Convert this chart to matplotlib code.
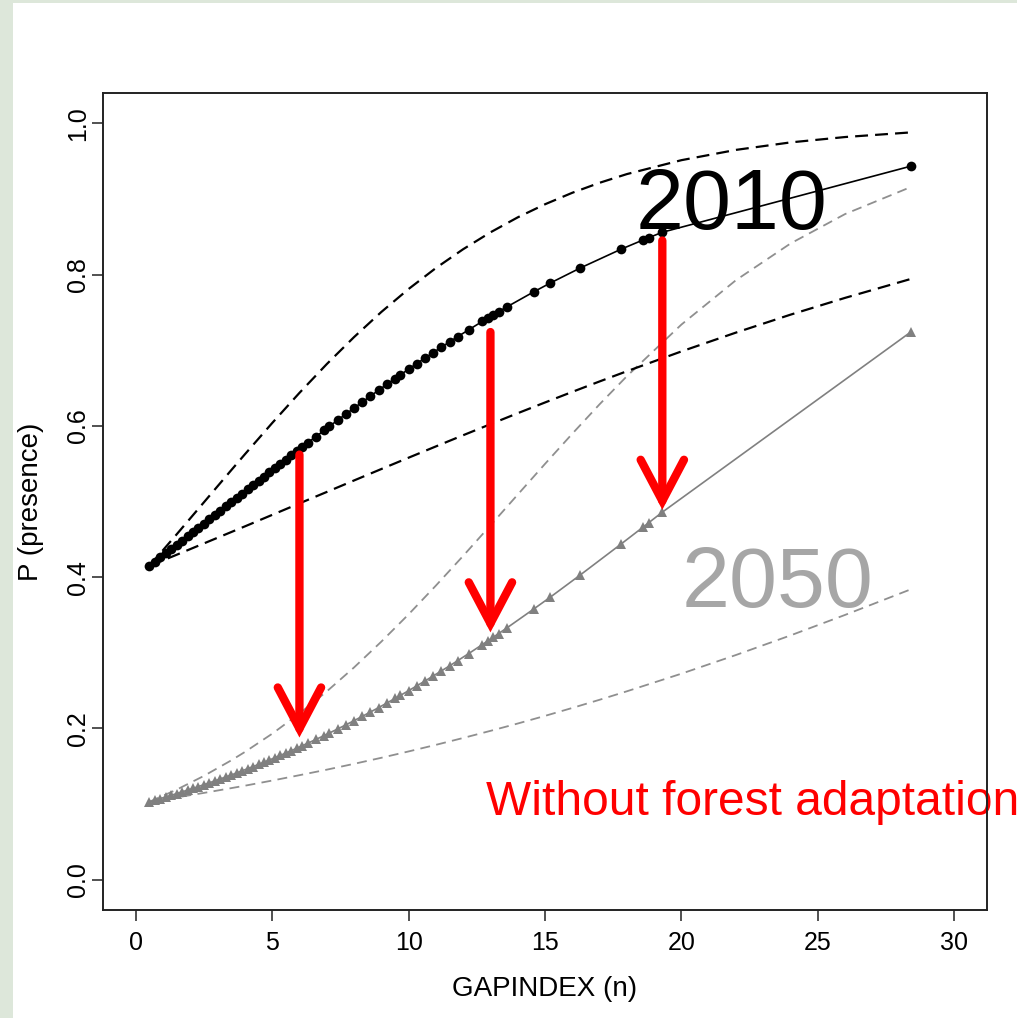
import matplotlib
matplotlib.use("Agg")
import matplotlib.pyplot as plt
from matplotlib.patches import Rectangle

plt.rcParams['font.family'] = ['Liberation Sans', 'DejaVu Sans']

# gap index values used for the fitted points
gap_x = [0.5, 0.7, 0.9, 1.1, 1.3, 1.5, 1.7, 1.9, 2.1, 2.3, 2.5, 2.7, 2.9, 3.1,
         3.3, 3.5, 3.7, 3.9, 4.1, 4.3, 4.5, 4.7, 4.9, 5.1, 5.3, 5.5, 5.7, 5.9,
         6.1, 6.3, 6.6, 6.9, 7.1, 7.4, 7.7, 8.0, 8.3, 8.6, 8.9, 9.2, 9.5, 9.7,
         10.0, 10.3, 10.6, 10.9, 11.2, 11.5, 11.8, 12.2, 12.7, 12.9, 13.1, 13.3,
         13.6, 14.6, 15.2, 16.3, 17.8, 18.6, 18.8, 19.3, 28.4]

# fitted probability of presence, 2010
p_2010 = [0.4150, 0.4206, 0.4261, 0.4316, 0.4372, 0.4428, 0.4483, 0.4539,
          0.4595, 0.4652, 0.4708, 0.4764, 0.4821, 0.4877, 0.4934, 0.4990,
          0.5046, 0.5103, 0.5159, 0.5216, 0.5272, 0.5329, 0.5385, 0.5441,
          0.5497, 0.5553, 0.5609, 0.5664, 0.5720, 0.5775, 0.5857, 0.5939,
          0.5994, 0.6075, 0.6155, 0.6235, 0.6314, 0.6393, 0.6471, 0.6548,
          0.6624, 0.6674, 0.6749, 0.6823, 0.6896, 0.6968, 0.7039, 0.7109,
          0.7179, 0.7269, 0.7380, 0.7423, 0.7467, 0.7509, 0.7572, 0.7774,
          0.7889, 0.8088, 0.8337, 0.8458, 0.8487, 0.8559, 0.9432]

# fitted probability of presence, 2050
p_2050 = [0.1030, 0.1051, 0.1073, 0.1094, 0.1116, 0.1139, 0.1162, 0.1185,
          0.1208, 0.1232, 0.1257, 0.1282, 0.1307, 0.1333, 0.1359, 0.1385,
          0.1412, 0.1440, 0.1468, 0.1496, 0.1524, 0.1554, 0.1583, 0.1613,
          0.1644, 0.1675, 0.1706, 0.1738, 0.1771, 0.1804, 0.1854, 0.1905,
          0.1940, 0.1993, 0.2047, 0.2103, 0.2159, 0.2217, 0.2275, 0.2335,
          0.2396, 0.2437, 0.2499, 0.2563, 0.2627, 0.2693, 0.2760, 0.2827,
          0.2896, 0.2989, 0.3108, 0.3157, 0.3205, 0.3254, 0.3328, 0.3582,
          0.3737, 0.4031, 0.4441, 0.4663, 0.4719, 0.4859, 0.7239]

# confidence bands
band_x = [0.5, 1.5, 2.5, 3.5, 4, 5, 6, 7, 8, 9, 10, 11, 12, 13, 14, 15, 16,
          17, 18, 20, 22, 24, 26, 28.4]
hi_2010 = [0.4148, 0.4566, 0.4990, 0.5414, 0.5624, 0.6037, 0.6436, 0.6816,
           0.7173, 0.7505, 0.7809, 0.8086, 0.8335, 0.8558, 0.8756, 0.8929,
           0.9081, 0.9213, 0.9328, 0.9512, 0.9648, 0.9747, 0.9818, 0.9879]
lo_2010 = [0.4148, 0.4296, 0.4446, 0.4596, 0.4671, 0.4823, 0.4975, 0.5126,
           0.5278, 0.5429, 0.5579, 0.5728, 0.5876, 0.6022, 0.6167, 0.6309,
           0.6449, 0.6587, 0.6722, 0.6984, 0.7233, 0.7470, 0.7692, 0.7941]
hi_2050 = [0.1030, 0.1191, 0.1373, 0.1578, 0.1689, 0.1930, 0.2197, 0.2489,
           0.2806, 0.3147, 0.3508, 0.3888, 0.4281, 0.4684, 0.5091, 0.5497,
           0.5896, 0.6285, 0.6656, 0.7339, 0.7926, 0.8411, 0.8800, 0.9156]
lo_2050 = [0.1030, 0.1088, 0.1148, 0.1211, 0.1243, 0.1311, 0.1382, 0.1455,
           0.1532, 0.1612, 0.1696, 0.1783, 0.1874, 0.1968, 0.2065, 0.2166,
           0.2271, 0.2379, 0.2491, 0.2724, 0.2971, 0.3230, 0.3501, 0.3838]

# red arrows: drop from 2010 to 2050
arrow_x = [6.0, 13.0, 19.3]
arrow_top = [0.562, 0.724, 0.845]
arrow_tip = [0.188, 0.327, 0.489]

fig = plt.figure(figsize=(10.17, 10.18), dpi=100, facecolor='#dde7da')
fig.patches.append(Rectangle((13 / 1017, 0), 1, 1 - 3 / 1018, transform=fig.transFigure,
                             facecolor='white', edgecolor='none', zorder=-1))
ax = fig.add_axes([103 / 1017, 108 / 1018, 884 / 1017, 817 / 1018])
ax.set_facecolor('white')

ax.plot(band_x, hi_2050, color='#8f8f8f', lw=1.3, linestyle=(0, (5.5, 3.5)))
ax.plot(band_x, lo_2050, color='#8f8f8f', lw=1.3, linestyle=(0, (5.5, 3.5)))
ax.plot(band_x, hi_2010, color='black', lw=1.6, linestyle=(0, (5.8, 3.2)))
ax.plot(band_x, lo_2010, color='black', lw=1.6, linestyle=(0, (5.8, 3.2)))

ax.plot(gap_x, p_2050, color='#808080', lw=1.2, marker='^', markersize=7.5,
        markeredgewidth=0)
ax.plot(gap_x, p_2010, color='black', lw=1.2, marker='o', markersize=7,
        markeredgewidth=0)

for x, top, tip in zip(arrow_x, arrow_top, arrow_tip):
    ax.annotate('', xy=(x, tip), xytext=(x, top),
                arrowprops=dict(arrowstyle='->,head_length=1.48,head_width=0.78',
                                color='red', lw=6, mutation_scale=20,
                                shrinkA=0, shrinkB=0, capstyle='round',
                                joinstyle='miter'), zorder=5)

ax.text(18.33, 0.860, '2010', fontsize=62, color='black', ha='left',
        va='baseline', zorder=6)
ax.text(20.02, 0.361, '2050', fontsize=62, color='#a6a6a6', ha='left',
        va='baseline', zorder=6)
ax.text(12.82, 0.086, 'Without forest adaptation', fontsize=34.5, color='red',
        ha='left', va='baseline', zorder=2, clip_on=False)

ax.set_xlim(-1.2, 31.2)
ax.set_ylim(-0.04, 1.04)
ax.set_xticks([0, 5, 10, 15, 20, 25, 30])
ax.set_yticks([0.0, 0.2, 0.4, 0.6, 0.8, 1.0])
ax.set_yticklabels(['0.0', '0.2', '0.4', '0.6', '0.8', '1.0'])
ax.tick_params(axis='both', length=8, width=1.1, color='#222222', labelsize=18)
ax.tick_params(axis='x', pad=7)
ax.tick_params(axis='y', pad=1, labelrotation=90)
for lab in ax.get_yticklabels():
    lab.set_verticalalignment('center')
for sp in ax.spines.values():
    sp.set_linewidth(1.4)
    sp.set_color('#222222')
    sp.set_zorder(4)

ax.set_xlabel('GAPINDEX (n)', fontsize=20, labelpad=15)
ax.set_ylabel('P (presence)', fontsize=20, labelpad=16)

fig.savefig('out.png', dpi=100, facecolor=fig.get_facecolor())
